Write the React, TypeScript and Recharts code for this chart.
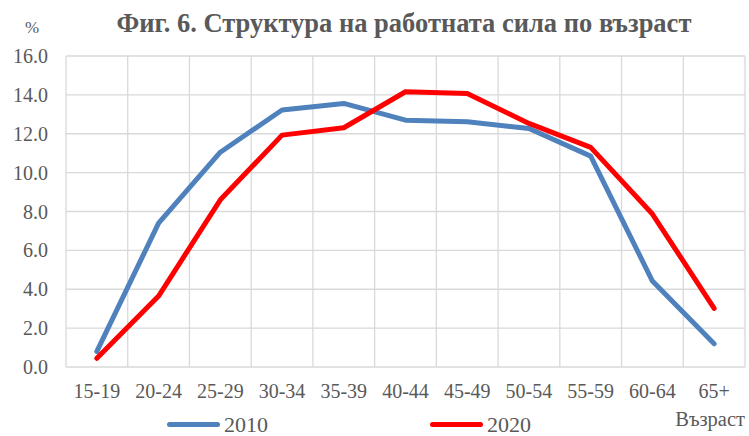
import React from 'react';
import { LineChart, Line, XAxis, YAxis, CartesianGrid, Legend } from 'recharts';

const categories = ['15-19', '20-24', '25-29', '30-34', '35-39', '40-44', '45-49', '50-54', '55-59', '60-64', '65+'];
const values2010 = [0.8, 7.4, 11.05, 13.22, 13.56, 12.7, 12.62, 12.27, 10.85, 4.42, 1.2];
const values2020 = [0.45, 3.65, 8.6, 11.93, 12.31, 14.16, 14.07, 12.53, 11.3, 7.87, 3.02];
const yTicks = [0, 2, 4, 6, 8, 10, 12, 14, 16];
const seriesNames = ['2010', '2020'];
const seriesColors = ['#4F81BD', '#FF0000'];
const titleText = 'Фиг. 6. Структура на работната сила по възраст';
const yUnit = '%';
const xName = 'Възраст';

const data = categories.map((c, i) => ({ cat: c, s2010: values2010[i], s2020: values2020[i] }));

const FONT = '"Liberation Serif", "Times New Roman", serif';
const TEXT = '#595959';
const W = 749;
const H = 436;
const M = { top: 56, right: 4, bottom: 0, left: 0 };
const Y_W = 66;
const X_H = 69;
const HALF_BAND = (W - M.left - M.right - Y_W) / categories.length / 2;

const renderLegend = (props: any) => {
  const payload = props.payload || [];
  const lefts = [167, 430];
  return (
    <div style={{ position: 'relative', width: W, height: 23 }}>
      {payload.map((p: any, i: number) => (
        <div key={i} style={{ position: 'absolute', left: lefts[i], top: 0, display: 'flex', alignItems: 'center', height: 23 }}>
          <div style={{ width: 53, height: 5, borderRadius: 3, background: p.color }} />
          <span style={{ fontFamily: FONT, fontSize: 22, color: TEXT, marginLeft: 4, lineHeight: '23px' }}>{p.value}</span>
        </div>
      ))}
    </div>
  );
};

export default function App() {
  return (
    <div style={{ position: 'absolute', left: 0, top: 0, width: W, height: H, background: '#fff' }}>
      <LineChart width={W} height={H} data={data} margin={M}>
        <CartesianGrid
          stroke="#D9D9D9"
          strokeWidth={1.3}
          verticalCoordinatesGenerator={({ offset }: any) =>
            Array.from({ length: categories.length + 1 }, (_, i) => offset.left + (i * offset.width) / categories.length)
          }
        />
        <XAxis
          dataKey="cat"
          height={X_H}
          padding={{ left: HALF_BAND, right: HALF_BAND }}
          axisLine={false}
          tickLine={false}
          tickSize={6}
          tickMargin={11}
          interval={0}
          tick={{ fontFamily: FONT, fontSize: 20, fill: TEXT }}
        />
        <YAxis
          width={Y_W}
          domain={[0, 16]}
          ticks={yTicks}
          axisLine={false}
          tickLine={false}
          tickSize={8}
          tickMargin={10}
          tickFormatter={(v: number) => v.toFixed(1)}
          tick={{ fontFamily: FONT, fontSize: 20, fill: TEXT }}
        />
        <Legend
          layout="horizontal"
          verticalAlign="middle"
          align="center"
          wrapperStyle={{ top: 413, left: 0, width: W }}
          content={renderLegend}
        />
        <Line type="linear" dataKey="s2010" name={seriesNames[0]} stroke={seriesColors[0]} strokeWidth={5} dot={false} strokeLinecap="round" strokeLinejoin="round" isAnimationActive={false} />
        <Line type="linear" dataKey="s2020" name={seriesNames[1]} stroke={seriesColors[1]} strokeWidth={5} dot={false} strokeLinecap="round" strokeLinejoin="round" isAnimationActive={false} />
      </LineChart>
      <svg width={W} height={H} style={{ position: 'absolute', left: 0, top: 0, pointerEvents: 'none' }}>
        <text x={404} y={32} textAnchor="middle" fontFamily={FONT} fontSize={26.5} fontWeight="bold" fill={TEXT}>{titleText}</text>
        <text x={25} y={33} fontFamily={FONT} fontSize={17} fill={TEXT}>{yUnit}</text>
        <text x={745} y={426} textAnchor="end" fontFamily={FONT} fontSize={20.5} fill={TEXT}>{xName}</text>
      </svg>
    </div>
  );
}
